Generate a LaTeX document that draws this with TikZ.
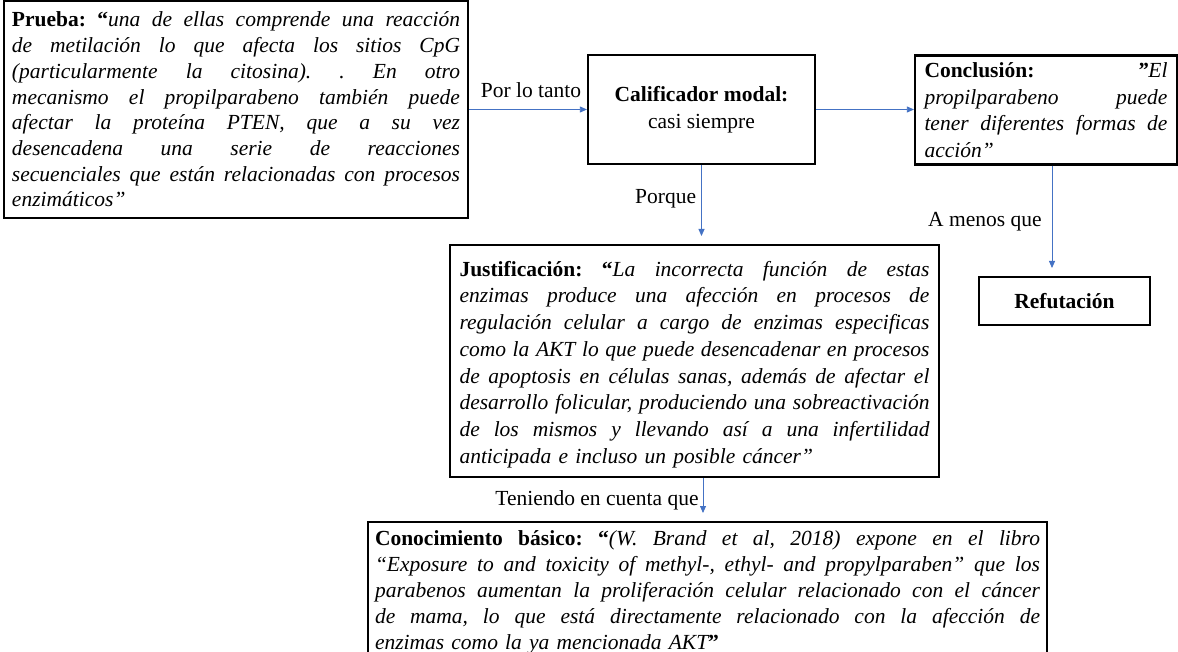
\documentclass[tikz,border=0pt]{standalone}
\usepackage{fontspec}
\setmainfont{Liberation Serif}
\usetikzlibrary{arrows.meta}
\definecolor{arrblue}{RGB}{68,114,196}
\newlength\jw
\newcommand\jl[1]{\noindent\hbox to\jw{\frenchspacing\spaceskip=\fontdimen2\font plus 1fil\relax\xspaceskip=\spaceskip #1}\par}
\newcommand\jlast[1]{\noindent\hbox{#1}\par}
\newcommand\gap{\hskip\fontdimen2\font plus 1fil\relax}
\begin{document}
\begin{tikzpicture}[x=1pt,y=-1pt,
  box/.style={draw=black,line width=2.2pt,inner ysep=0pt,font=\fontsize{21.5}{26.5}\selectfont},
  arr/.style={draw=arrblue,line width=0.8pt,-{Triangle[length=7pt,width=6pt]}},
  lab/.style={font=\fontsize{21.5}{26}\selectfont,inner sep=2pt}]
\useasboundingbox (0,0) rectangle (1178,652);
\fill[white] (0,0) rectangle (1178,652);
\clip (0,0) rectangle (1178,652);

\node[box, text width=448pt, inner xsep=8pt, minimum height=217pt, font=\fontsize{21.5}{25.7}\selectfont] (prueba) at (236,109.5) {\setlength\jw{448pt}\itshape
\jl{\textbf{\upshape Prueba:}\gap\textbf{\upshape “}una de ellas comprende una reacción}
\jl{de metilación lo que afecta los sitios CpG}
\jl{(particularmente la citosina). . En otro}
\jl{mecanismo el propilparabeno también puede}
\jl{afectar la proteína PTEN, que a su vez}
\jl{desencadena una serie de reacciones}
\jl{secuenciales que están relacionadas con procesos}
\jlast{enzimáticos”}};

\node[box, minimum width=227pt, minimum height=109pt, align=center, font=\fontsize{21.5}{27}\selectfont] (calif) at (701.5,109.5)
  {\textbf{Calificador modal:}\\casi siempre};

\node[box, text width=243pt, inner xsep=9.5pt, minimum height=109pt, font=\fontsize{21.5}{26.7}\selectfont] (concl) at (1046,110) {\setlength\jw{243pt}\itshape
\jl{\textbf{\upshape Conclusión:}\gap\textbf{”}El}
\jl{propilparabeno puede}
\jl{tener diferentes formas de}
\jlast{acción”}};

\node[box, minimum width=171pt, minimum height=48pt] (refut) at (1064.5,301) {\textbf{Refutación}};

\node[box, text width=470pt, inner xsep=9.5pt, minimum height=232pt, font=\fontsize{21.5}{26.7}\selectfont] (justif) at (694.5,361) {\setlength\jw{470pt}\itshape
\jl{\rule{0pt}{22pt}\textbf{\upshape Justificación:}\gap\textbf{\upshape “}La incorrecta función de estas}
\jl{enzimas produce una afección en procesos de}
\jl{regulación celular a cargo de enzimas especificas}
\jl{como la AKT lo que puede desencadenar en procesos}
\jl{de apoptosis en células sanas, además de afectar el}
\jl{desarrollo folicular, produciendo una sobreactivación}
\jl{de los mismos y llevando así a una infertilidad}
\jlast{anticipada e incluso un posible cáncer”}};

\node[box, text width=665pt, inner xsep=7pt, minimum height=140pt, font=\fontsize{21.5}{26}\selectfont] (conoc) at (707.5,592) {\setlength\jw{665pt}\itshape
\jl{\textbf{\upshape Conocimiento básico:}\gap\textbf{\upshape “}(W. Brand et al, 2018) expone en el libro}
\jl{“Exposure to and toxicity of methyl-, ethyl- and propylparaben” que los}
\jl{parabenos aumentan la proliferación celular relacionado con el cáncer}
\jl{de mama, lo que está directamente relacionado con la afección de}
\jlast{enzimas como la ya mencionada AKT\textbf{\upshape ”}}};

\draw[arr] (prueba.east) -- node[lab, above=9pt, xshift=3pt] (l1) {Por lo tanto} (calif.west);
\draw[arr] (calif.east) -- (concl.west |- calif.east);
\coordinate (e3) at (701.5,236);
\draw[arr] (calif.south) -- node[lab, left=3pt, pos=0.48] (l3) {Porque} (e3);
\coordinate (e4) at (1052,268);
\draw[arr] (e4 |- concl.south) -- node[lab, left=8pt, pos=0.55] (l4) {A menos que} (e4);
\coordinate (e5) at (703,513);
\draw[arr] (e5 |- justif.south) -- node[lab, left=2pt, pos=0.65] (l5) {Teniendo en cuenta que} (e5);
\end{tikzpicture}
\end{document}
